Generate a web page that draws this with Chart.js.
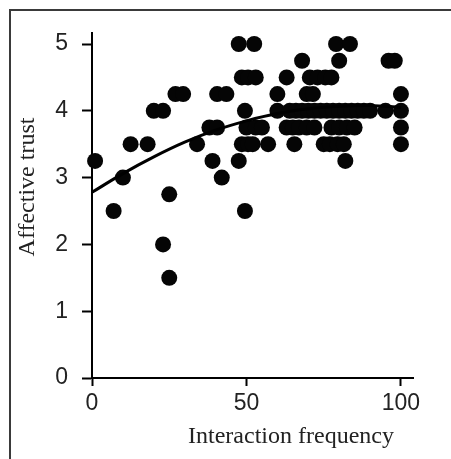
<!DOCTYPE html>
<html>
<head>
<meta charset="utf-8">
<script src="https://cdn.jsdelivr.net/npm/chart.js@4"></script>
<style>
  html, body { margin: 0; padding: 0; background: #fff; }
  #wrap { position: relative; width: 451px; height: 459px; }
</style>
</head>
<body>
<div id="wrap"><canvas id="trustChart" width="451" height="459"></canvas></div>
<script>
// interaction frequency (x) and affective trust (y) for each respondent
const freq = [
    1, 7, 10, 12.5, 18, 20, 23, 23, 25, 25, 27, 29.5, 34, 38, 40.5, 39, 40.5, 43.5, 42,
    47.5, 52.5, 48.5, 50.5, 53, 49.5, 50, 53, 55, 48.5, 50.5, 52, 57, 47.5, 49.5, 60, 60,
    63, 68, 70.5, 73, 75.5, 77.5, 69.5, 71.5, 63, 65, 67, 69.5, 72, 65.5, 75, 77, 79.5, 81.5,
    79, 83.5, 80, 77.5, 80, 82.5, 85, 82, 96, 98, 100, 100, 100, 100,
    64, 66, 68, 70, 72, 74, 76, 78, 80, 82, 84, 86, 88, 90, 95
];
const trust = [
    3.25, 2.5, 3.0, 3.5, 3.5, 4.0, 4.0, 2.0, 1.5, 2.75, 4.25, 4.25, 3.5, 3.75, 3.75, 3.25, 4.25, 4.25, 3.0,
    5.0, 5.0, 4.5, 4.5, 4.5, 4.0, 3.75, 3.75, 3.75, 3.5, 3.5, 3.5, 3.5, 3.25, 2.5, 4.25, 4.0,
    4.5, 4.75, 4.5, 4.5, 4.5, 4.5, 4.25, 4.25, 3.75, 3.75, 3.75, 3.75, 3.75, 3.5, 3.5, 3.5, 3.5, 3.5,
    5.0, 5.0, 4.75, 3.75, 3.75, 3.75, 3.75, 3.25, 4.75, 4.75, 4.25, 4.0, 3.75, 3.5,
    4.0, 4.0, 4.0, 4.0, 4.0, 4.0, 4.0, 4.0, 4.0, 4.0, 4.0, 4.0, 4.0, 4.0, 4.0
];
// fitted curve
const trendX = [0, 10, 20, 30, 40, 50, 60, 70, 80, 90, 100];
const trendY = [2.78, 3.06, 3.31, 3.53, 3.71, 3.85, 3.96, 4.03, 4.07, 4.08, 4.05];

const xTicks = [0, 50, 100];
const yTicks = [0, 1, 2, 3, 4, 5];

const frame = {
    id: 'frame',
    beforeDraw(chart) {
        const c = chart.ctx;
        c.save();
        c.fillStyle = '#fff';
        c.fillRect(0, 0, chart.width, chart.height);
        c.strokeStyle = '#3a3a3a';
        c.lineWidth = 2;
        c.strokeRect(10, 10, 470, 470);
        c.restore();
    },
    afterDraw(chart) {
        const c = chart.ctx;
        c.save();
        c.fillStyle = '#222';
        c.font = "24px 'Liberation Serif', 'Times New Roman', serif";
        c.textAlign = 'center';
        c.textBaseline = 'middle';
        c.fillText('Interaction frequency', 291, 437);
        c.translate(28, 187);
        c.rotate(-Math.PI / 2);
        c.fillText('Affective trust', 0, 0);
        c.restore();
    }
};

new Chart(document.getElementById('trustChart'), {
    data: {
        datasets: [{
            type: 'line',
            data: trendX.map((x, i) => ({ x: x, y: trendY[i] })),
            borderColor: '#000',
            borderWidth: 3,
            pointRadius: 0,
            tension: 0.4,
            fill: false
        }, {
            type: 'scatter',
            data: freq.map((x, i) => ({ x: x, y: trust[i] })),
            backgroundColor: '#050505',
            borderWidth: 0,
            pointRadius: 8,
            clip: false
        }]
    },
    options: {
        responsive: false,
        animation: false,
        layout: { padding: { left: 0, top: 33, right: 38, bottom: 0 } },
        plugins: {
            legend: { display: false },
            tooltip: { enabled: false }
        },
        scales: {
            x: {
                type: 'linear',
                min: 0,
                max: 103.9,
                afterBuildTicks: s => { s.ticks = xTicks.map(v => ({ value: v })); },
                afterFit: s => { s.height = 81; },
                grid: { drawOnChartArea: false, tickLength: 8, tickWidth: 2, tickColor: '#000' },
                border: { color: '#000', width: 2 },
                ticks: {
                    color: '#222',
                    padding: 4,
                    maxRotation: 0,
                    font: { family: "'Liberation Sans', Arial, sans-serif", size: 23 }
                }
            },
            y: {
                min: 0,
                max: 5.165,
                afterBuildTicks: s => { s.ticks = yTicks.map(v => ({ value: v })); },
                afterFit: s => { s.width = 92; },
                grid: { drawOnChartArea: false, tickLength: 10, tickWidth: 2, tickColor: '#000' },
                border: { color: '#000', width: 2 },
                ticks: {
                    color: '#222',
                    padding: 14,
                    font: { family: "'Liberation Sans', Arial, sans-serif", size: 23 }
                }
            }
        }
    },
    plugins: [frame]
});
</script>
</body>
</html>
